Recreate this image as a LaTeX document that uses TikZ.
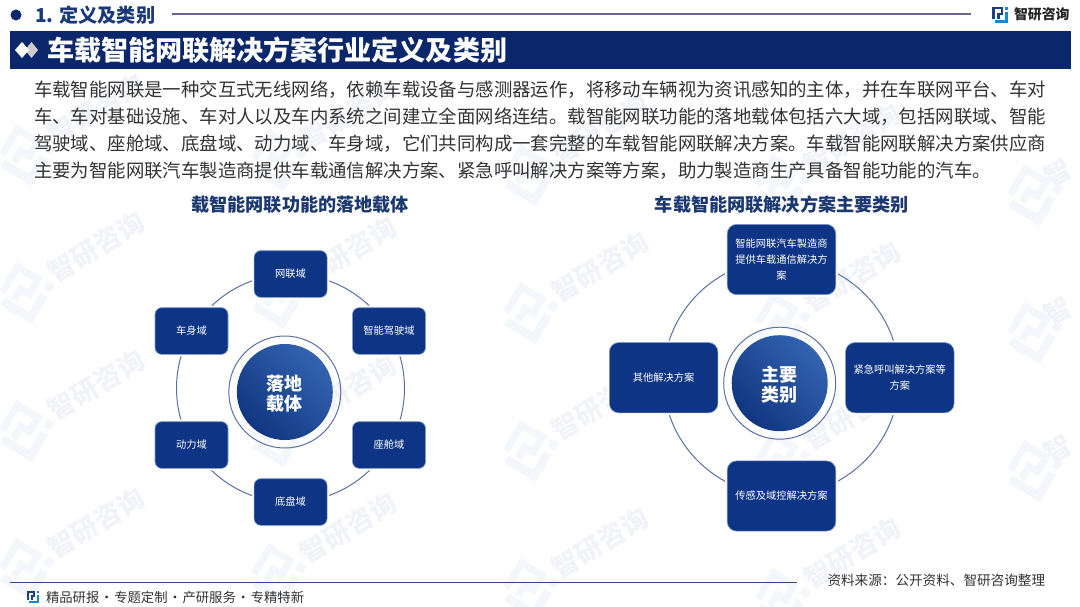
\documentclass[tikz,border=0pt]{standalone}
\usepackage{fontspec}
\setmainfont{Noto Sans CJK SC}
\definecolor{navy}{HTML}{0B276B}
\definecolor{boxblue}{HTML}{0E3585}
\definecolor{boxedge}{HTML}{7F99C8}
\definecolor{ringline}{HTML}{5A70A6}
\definecolor{bodytext}{HTML}{333333}
\definecolor{subtitle}{HTML}{1B3870}
\definecolor{wmA}{HTML}{F1F3F8}
\definecolor{wmB}{HTML}{F3F6FA}
\definecolor{logoA}{HTML}{1C3F86}
\definecolor{logoB}{HTML}{1E86C8}
\definecolor{hubLight}{HTML}{3463B0}
\definecolor{hubDark}{HTML}{103680}
\newcommand{\zylogo}[6]{%
  \begin{scope}[shift={(#1,#2)},rotate=#4,scale=#3]
    \fill[#5] (-8,-8) rectangle (3,-5.5);
    \fill[#5] (-8,-8) rectangle (-5.5,4);
    \fill[#5] (0.5,-8) rectangle (3,0.5);
    \fill[#5] (-3,-2) rectangle (3,0.5);
    \fill[#5] (-3,-2) rectangle (-0.5,4);
    \fill[#6] (5,-8) rectangle (8,-5);
    \fill[#6] (5,-3) rectangle (8,8);
    \fill[#6] (-5,5) rectangle (8,8);
  \end{scope}}
\tikzset{
  x=0.75pt,y=-0.75pt,
  lbl/.style={inner sep=0pt,outer sep=0pt},
  bodyline/.style={lbl,anchor=west,text=bodytext,font=\fontsize{13.8}{16}\selectfont},
  subhead/.style={lbl,text=subtitle,font=\fontsize{13.6}{16}\selectfont\bfseries},
  tile/.style={rounded corners=5pt,fill=boxblue,draw=boxedge,line width=0.5pt,text=white,inner sep=0pt,align=center,
    preaction={draw=white,line width=3pt},font=\fontsize{7.7}{11.9}\selectfont},
  smalltile/.style={tile,minimum width=54.75pt,minimum height=35pt},
  bigtile/.style={tile,rounded corners=7pt,minimum width=81.4pt,minimum height=52.7pt},
  hub/.style={circle,inner sep=0pt,minimum size=72pt,left color=hubLight,right color=hubDark,shading angle=-45,
    text=white,align=center,font=\fontsize{13.5}{15.5}\selectfont\bfseries},
  hubring/.style={circle,draw=ringline,line width=0.75pt,minimum size=84pt,inner sep=0pt},
  orbit/.style={circle,draw=ringline,line width=0.75pt,inner sep=0pt},
  wmtext/.style={lbl,text=wmA,rotate=31,font=\fontsize{20}{24}\selectfont\bfseries},
}
\newcommand{\hubstrut}{\rule{0pt}{14pt}}
\begin{document}
\begin{tikzpicture}
\useasboundingbox (0,0) rectangle (1080,606);
\fill[white] (0,0) rectangle (1080,606);
% watermarks
\foreach \cx/\cy in {96/109,96/247,96/385,96/523,
                     348/114,348/252,348/390,348/528,
                     600/129,600/267,600/405,600/543,
                     852/139,852/277,852/415,852/553}{
  \node[wmtext] at (\cx,\cy) {智研咨询};
  \zylogo{\cx-72}{\cy+46}{2.8}{-31}{wmB}{wmB}
}
\foreach \cy in {149,287,425}{
  \node[wmtext] at (1058,\cy+24) {智};
  \zylogo{1032}{\cy+46}{2.8}{-31}{wmB}{wmB}
}
% header
\fill[navy] (16,15) circle[radius=5.5];
\node[lbl,anchor=west,text=logoA!90!black,font=\fontsize{14.4}{17}\selectfont\bfseries] (sec) at (35,15) {1. 定义及类别};
\coordinate (secEnd) at (971,14);
\draw[color=black!5!blue!20!gray,line width=1.1pt] (172,14) -- (secEnd);
\zylogo{1000}{15}{1}{0}{logoA}{logoB}
\node[lbl,anchor=west,text=black!85,font=\fontsize{10.4}{12}\selectfont\bfseries] (brand) at (1014,14) {智研咨询};
% title band
\fill[navy] (10,31.5) rectangle (1071,69.5);
\fill[black!20!white] (25,50) -- (31.5,42) -- (38,50) -- (31.5,58) -- cycle;
\fill[white] (15,50) -- (22,42) -- (29,50) -- (22,58) -- cycle;
\node[lbl,anchor=west,text=white,font=\fontsize{20.3}{23}\selectfont\bfseries] (title) at (47,50) {车载智能网联解决方案行业定义及类别};
% body
\node[bodyline] (l1) at (34,90) {车载智能网联是一种交互式无线网络，依赖车载设备与感测器运作，将移动车辆视为资讯感知的主体，并在车联网平台、车对};
\node[bodyline] (l2) at (34,117) {车、车对基础设施、车对人以及车内系统之间建立全面网络连结。载智能网联功能的落地载体包括六大域，包括网联域、智能};
\node[bodyline] (l3) at (34,144) {驾驶域、座舱域、底盘域、动力域、车身域，它们共同构成一套完整的车载智能网联解决方案。车载智能网联解决方案供应商};
\node[bodyline] (l4) at (34,171) {主要为智能网联汽车製造商提供车载通信解决方案、紧急呼叫解决方案等方案，助力製造商生产具备智能功能的汽车。};
% left diagram
\node[subhead] (leftHead) at (300.2,205) {载智能网联功能的落地载体};
\node[orbit,minimum size=171pt] (leftOrbit) at (290.5,388.2) {};
\node[hubring] (leftRing) at (284.8,392) {};
\node[hub] (leftHub) at (284.8,392) {\hubstrut 落地\\载体};
\node[smalltile] (a1) at (290.6,274) {网联域};
\node[smalltile] (a2) at (389,331) {智能驾驶域};
\node[smalltile] (a3) at (389,445) {座舱域};
\node[smalltile] (a4) at (290.6,502) {底盘域};
\node[smalltile] (a5) at (191.5,445) {动力域};
\node[smalltile] (a6) at (191.5,331) {车身域};
% right diagram
\node[subhead] (rightHead) at (781.9,205) {车载智能网联解决方案主要类别};
\node[orbit,minimum size=177pt] (rightOrbit) at (781.3,377.5) {};
\node[hubring] (rightRing) at (779.7,383.2) {};
\node[hub] (rightHub) at (779.7,383.2) {\hubstrut 主要\\类别};
\node[bigtile] (b1) at (781.5,259.5) {智能网联汽车製造商\\提供车载通信解决方\\案};
\node[bigtile] (b2) at (899.8,377.7) {紧急呼叫解决方案等\\方案};
\node[bigtile] (b3) at (781.5,496) {传感及域控解决方案};
\node[bigtile] (b4) at (663.6,377.7) {其他解决方案};
% footer
\coordinate (footL) at (10,582.7);
\coordinate (footR) at (796.5,582.7);
\draw[navy!85!white,line width=0.9pt] (footL) -- (footR);
\zylogo{33}{597}{0.8}{0}{logoA}{logoB}
\node[lbl,anchor=west,text=bodytext,font=\fontsize{10}{12}\selectfont] (slogan) at (46,597) {精品研报\hspace{0.06em}·\hspace{0.06em}专题定制\hspace{0.06em}·\hspace{0.06em}产研服务\hspace{0.06em}·\hspace{0.06em}专精特新};
\node[lbl,anchor=west,text=bodytext,font=\fontsize{10.2}{13}\selectfont] (source) at (827.5,580.7) {资料来源：公开资料、智研咨询整理};
\end{tikzpicture}
\end{document}
